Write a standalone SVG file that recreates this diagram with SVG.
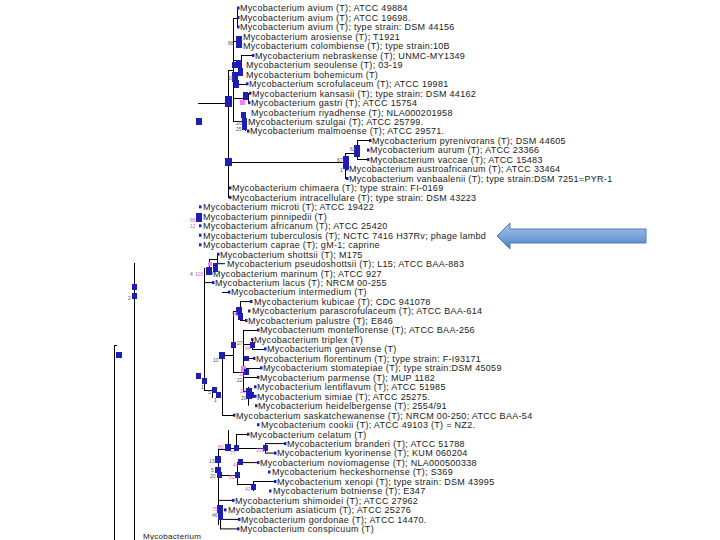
<svg xmlns="http://www.w3.org/2000/svg" width="720" height="540" viewBox="0 0 720 540">
<defs>
<style>
.t{font-family:"Liberation Sans",Arial,sans-serif;font-size:9px;letter-spacing:0.3px;fill:#1a1a1a}
.b{font-family:"Liberation Sans",Arial,sans-serif;font-size:5px;fill:#555}
.p{font-family:"Liberation Sans",Arial,sans-serif;font-size:5px;fill:#e060e0}
.n{fill:#1e1eb4}
.pk{fill:#f080f0}
.e{stroke:#000;stroke-width:1;fill:none}
</style>
<linearGradient id="ag" x1="0" y1="0" x2="0" y2="1">
<stop offset="0" stop-color="#a9c4eb"/>
<stop offset="0.5" stop-color="#7ca4dc"/>
<stop offset="1" stop-color="#4f81bd"/>
</linearGradient>
</defs>
<rect width="720" height="540" fill="#fff"/>

<g id="connectors" class="e">
<path d="M198,103.5H228 M228.5,70V198 M228,70.5H233 M233.5,18V121 M233,18.5H237 M237.5,8V27"/>
<path d="M233,41.5H240 M240.5,36V46 M233,60.5H241 M241.5,55V75 M241,55.5H253 M233,84.5H246 M233,98.5H248 M248.5,93V103 M233,121.5H245 M245.5,112V131"/>
<path d="M228,162.5H345 M345.5,153V179 M345,153.5H357 M357.5,140.6V159.5 M357,140.5H370 M357,159.5H368 M345,169H347 M345,178.5H347"/>
<path d="M217.5,254V264 M217,263.7H225 M209.5,259V274 M209,259.5H217 M204.5,268V390 M204,282.6H213 M204,390.5H212 M212.5,390V398"/>
<path d="M222,292.5H229"/>
<path d="M222.5,355V415.5 M222,415.5H234 M222,355.5H233 M233.5,311V372 M233,311.5H240 M240.5,301.6V320.5 M240,301.6H251 M240,320.5H246"/>
<path d="M233,372.5H243 M243.5,330V392 M243,330.5H258 M243,344.5H252 M252.5,339.5V349 M252,349.5H265 M243,358.5H254 M243,368.5H261 M243,377.5H258 M243,391.5H248 M248.5,386.8V405.7"/>
<path d="M228.5,430V449 M218,449.5H228 M228,448.5H236 M236.5,434V449 M236,434.5H248 M236,448.5H265 M265.5,443.6V453.1 M265,443.6H285 M265,453.1H275"/>
<path d="M218.5,449V500.4 M218,500.4H233 M219,475.5H237 M237.5,462.6V485 M237,462.6H258 M237,484.5H253 M253.5,481.5V491 M253,481.5H275 M218.5,500V525 M218,505.5H220.5 M220.5,505V529 M220,519.4H239 M220,528.9H238"/>
<path d="M134.5,263V540 M114.5,345V540 M114,345.5H117"/>
</g>

<g id="arrow">
<polygon points="497,236 510,223 510,229 646,229 646,243 510,243 510,249" fill="url(#ag)" stroke="#4a7ebb" stroke-width="1"/>
</g>

<g id="internal-nodes">
<rect class="n" x="225" y="96" width="7" height="11"/>
<rect class="n" x="196" y="118" width="6" height="7"/>
<rect class="n" x="225" y="158" width="7" height="8"/>
<rect class="n" x="236" y="36" width="6" height="12"/>
<text class="b" x="228" y="45">88</text>
<rect class="n" x="232" y="62" width="4" height="6"/>
<rect class="n" x="236" y="60" width="6" height="8"/>
<rect class="n" x="238" y="68" width="5" height="8"/>
<rect class="n" x="232" y="72" width="6" height="10"/>
<rect class="n" x="234" y="80" width="5" height="8"/>
<text class="b" x="228" y="80">93</text>
<rect class="n" x="243" y="92" width="5" height="8"/>
<rect class="pk" x="240" y="100" width="5" height="5"/>
<rect class="n" x="241" y="112" width="5" height="6"/>
<rect class="n" x="242" y="118" width="5" height="12"/>
<text class="b" x="236" y="125">20</text>
<text class="b" x="236" y="131">25</text>
<rect class="n" x="343" y="156" width="6" height="13"/>
<text class="b" x="337" y="162">67</text>
<text class="b" x="340" y="172">1</text>
<rect class="n" x="354" y="145" width="6" height="12"/>
<text class="b" x="350" y="151">63</text>
<rect class="n" x="196" y="213" width="6" height="9"/>
<text class="p" x="190" y="222">88</text>
<text class="p" x="190" y="228">12</text>
<rect class="n" x="206" y="267" width="6" height="8"/>
<rect class="pk" x="208" y="262" width="4" height="4"/>
<rect class="n" x="213" y="263" width="5" height="9"/>
<text class="b" x="190" y="276">4</text>
<text class="p" x="195" y="276">100</text>
<rect class="n" x="132" y="284" width="5" height="6"/>
<rect class="n" x="132" y="293" width="5" height="6"/>
<text class="b" x="128" y="300">2</text>
<rect class="n" x="116" y="352" width="6" height="6"/>
<rect class="n" x="236" y="307" width="6" height="8"/>
<rect class="n" x="238" y="313" width="5" height="7"/>
<text class="p" x="232" y="316">96</text>
<rect class="n" x="219" y="352" width="6" height="7"/>
<text class="b" x="213" y="362">10</text>
<rect class="n" x="231" y="342" width="5" height="6"/>
<text class="b" x="237" y="345">27</text>
<rect class="n" x="250" y="342" width="5" height="6"/>
<text class="p" x="245" y="350">94</text>
<rect class="n" x="244" y="356" width="5" height="5"/>
<rect class="pk" x="241" y="366" width="5" height="6"/>
<rect class="n" x="244" y="369" width="5" height="6"/>
<text class="p" x="239" y="376">32</text>
<text class="b" x="237" y="382">22</text>
<rect class="n" x="246" y="388" width="6" height="11"/>
<rect class="n" x="249" y="392" width="5" height="6"/>
<text class="p" x="240" y="393">20</text>
<text class="b" x="241" y="400">20</text>
<rect class="n" x="196" y="373" width="5" height="6"/>
<rect class="n" x="202" y="378" width="5" height="6"/>
<text class="b" x="201" y="389">1</text>
<rect class="n" x="212" y="387" width="5" height="6"/>
<rect class="n" x="216" y="392" width="5" height="6"/>
<text class="b" x="208" y="394">5</text>
<text class="b" x="214" y="402">1</text>
<rect class="n" x="225" y="444" width="6" height="7"/>
<text class="p" x="218" y="449">80</text>
<rect class="n" x="234" y="445" width="5" height="6"/>
<text class="p" x="230" y="455">77</text>
<rect class="n" x="263" y="445" width="5" height="6"/>
<text class="p" x="256" y="452">100</text>
<rect class="n" x="215" y="456" width="6" height="7"/>
<text class="b" x="209" y="463">13</text>
<rect class="n" x="215" y="467" width="6" height="6"/>
<rect class="n" x="217" y="472" width="5" height="6"/>
<text class="b" x="211" y="472">5</text>
<text class="b" x="210" y="478">20</text>
<rect class="n" x="235" y="472" width="5" height="6"/>
<text class="p" x="229" y="479">82</text>
<rect class="n" x="238" y="459" width="5" height="6"/>
<text class="p" x="233" y="467">44</text>
<rect class="n" x="251" y="484" width="5" height="6"/>
<text class="p" x="245" y="491">40</text>
<rect class="n" x="217" y="505" width="6" height="8"/>
<rect class="n" x="218" y="512" width="5" height="8"/>
<text class="p" x="212" y="511">75</text>
<text class="b" x="212" y="517">46</text>
</g>

<g id="leaves">
<g id="leaf-1"><rect class="n" x="237" y="6.5" width="2.5" height="3"/><text class="t" x="240" y="11.3">Mycobacterium avium (T); ATCC 49884</text></g>
<g id="leaf-2"><rect class="n" x="237" y="16" width="2.5" height="3"/><text class="t" x="240" y="20.8">Mycobacterium avium (T); ATCC 19698.</text></g>
<g id="leaf-3"><rect class="n" x="237" y="25.4" width="2.5" height="3"/><text class="t" x="240" y="30.2">Mycobacterium avium (T); type strain: DSM 44156</text></g>
<g id="leaf-4"><text class="t" x="243" y="39.7">Mycobacterium arosiense (T); T1921</text></g>
<g id="leaf-5"><text class="t" x="243" y="49.2">Mycobacterium colombiense (T); type strain:10B</text></g>
<g id="leaf-6"><rect class="n" x="252" y="53.9" width="2.5" height="3"/><text class="t" x="255" y="58.7">Mycobacterium nebraskense (T); UNMC-MY1349</text></g>
<g id="leaf-7"><text class="t" x="246" y="68.1">Mycobacterium seoulense (T); 03-19</text></g>
<g id="leaf-8"><text class="t" x="246" y="77.6">Mycobacterium bohemicum (T)</text></g>
<g id="leaf-9"><rect class="n" x="246" y="82.3" width="2.5" height="3"/><text class="t" x="249" y="87.1">Mycobacterium scrofulaceum (T); ATCC 19981</text></g>
<g id="leaf-10"><rect class="n" x="249" y="91.7" width="2.5" height="3"/><text class="t" x="252" y="96.5">Mycobacterium kansasii (T); type strain: DSM 44162</text></g>
<g id="leaf-11"><rect class="n" x="248" y="101.2" width="2.5" height="3"/><text class="t" x="251" y="106">Mycobacterium gastri (T); ATCC 15754</text></g>
<g id="leaf-12"><text class="t" x="251" y="115.5">Mycobacterium riyadhense (T); NLA000201958</text></g>
<g id="leaf-13"><text class="t" x="248" y="124.9">Mycobacterium szulgai (T); ATCC 25799.</text></g>
<g id="leaf-14"><rect class="n" x="247" y="129.6" width="2.5" height="3"/><text class="t" x="250" y="134.4">Mycobacterium malmoense (T); ATCC 29571.</text></g>
<g id="leaf-15"><rect class="n" x="369" y="139.1" width="2.5" height="3"/><text class="t" x="372" y="143.9">Mycobacterium pyrenivorans (T); DSM 44605</text></g>
<g id="leaf-16"><rect class="n" x="367" y="148.6" width="2.5" height="3"/><text class="t" x="370" y="153.4">Mycobacterium aurum (T); ATCC 23366</text></g>
<g id="leaf-17"><rect class="n" x="367" y="158" width="2.5" height="3"/><text class="t" x="370" y="162.8">Mycobacterium vaccae (T); ATCC 15483</text></g>
<g id="leaf-18"><rect class="n" x="346" y="167.5" width="2.5" height="3"/><text class="t" x="349" y="172.3">Mycobacterium austroafricanum (T); ATCC 33464</text></g>
<g id="leaf-19"><rect class="n" x="346" y="177" width="2.5" height="3"/><text class="t" x="349" y="181.8">Mycobacterium vanbaalenii (T); type strain:DSM 7251=PYR-1</text></g>
<g id="leaf-20"><rect class="n" x="229" y="186.4" width="2.5" height="3"/><text class="t" x="232" y="191.2">Mycobacterium chimaera (T); type strain: FI-0169</text></g>
<g id="leaf-21"><rect class="n" x="229" y="195.9" width="2.5" height="3"/><text class="t" x="232" y="200.7">Mycobacterium intracellulare (T); type strain: DSM 43223</text></g>
<g id="leaf-22"><rect class="n" x="199" y="205.4" width="2.5" height="3"/><text class="t" x="203" y="210.2">Mycobacterium microti (T); ATCC 19422</text></g>
<g id="leaf-23"><text class="t" x="203" y="219.6">Mycobacterium pinnipedii (T)</text></g>
<g id="leaf-24"><rect class="n" x="199" y="224.3" width="2.5" height="3"/><text class="t" x="203" y="229.1">Mycobacterium africanum (T); ATCC 25420</text></g>
<g id="leaf-25"><rect class="n" x="199" y="233.8" width="2.5" height="3"/><text class="t" x="203" y="238.6">Mycobacterium tuberculosis (T); NCTC 7416 H37Rv; phage lambd</text></g>
<g id="leaf-26"><rect class="n" x="199" y="243.3" width="2.5" height="3"/><text class="t" x="203" y="248.1">Mycobacterium caprae (T); gM-1; caprine</text></g>
<g id="leaf-27"><rect class="n" x="217" y="252.7" width="2.5" height="3"/><text class="t" x="220" y="257.5">Mycobacterium shottsii (T); M175</text></g>
<g id="leaf-28"><text class="t" x="227" y="267">Mycobacterium pseudoshottsii (T); L15; ATCC BAA-883</text></g>
<g id="leaf-29"><rect class="n" x="210" y="271.7" width="2.5" height="3"/><text class="t" x="213" y="276.5">Mycobacterium marinum (T); ATCC 927</text></g>
<g id="leaf-30"><rect class="n" x="212" y="281.1" width="2.5" height="3"/><text class="t" x="215" y="285.9">Mycobacterium lacus (T); NRCM 00-255</text></g>
<g id="leaf-31"><rect class="n" x="228" y="290.6" width="2.5" height="3"/><text class="t" x="231" y="295.4">Mycobacterium intermedium (T)</text></g>
<g id="leaf-32"><rect class="n" x="250" y="300.1" width="2.5" height="3"/><text class="t" x="254" y="304.9">Mycobacterium kubicae (T); CDC 941078</text></g>
<g id="leaf-33"><rect class="n" x="248" y="309.5" width="2.5" height="3"/><text class="t" x="252" y="314.3">Mycobacterium parascrofulaceum (T); ATCC BAA-614</text></g>
<g id="leaf-34"><rect class="n" x="245" y="319" width="2.5" height="3"/><text class="t" x="248" y="323.8">Mycobacterium palustre (T); E846</text></g>
<g id="leaf-35"><rect class="n" x="257" y="328.5" width="2.5" height="3"/><text class="t" x="260" y="333.3">Mycobacterium monteflorense (T); ATCC BAA-256</text></g>
<g id="leaf-36"><rect class="n" x="251" y="338" width="2.5" height="3"/><text class="t" x="254" y="342.8">Mycobacterium triplex (T)</text></g>
<g id="leaf-37"><rect class="n" x="264" y="347.4" width="2.5" height="3"/><text class="t" x="267" y="352.2">Mycobacterium genavense (T)</text></g>
<g id="leaf-38"><rect class="n" x="253" y="356.9" width="2.5" height="3"/><text class="t" x="256" y="361.7">Mycobacterium florentinum (T); type strain: F-I93171</text></g>
<g id="leaf-39"><rect class="n" x="260" y="366.4" width="2.5" height="3"/><text class="t" x="263" y="371.2">Mycobacterium stomatepiae (T); type strain:DSM 45059</text></g>
<g id="leaf-40"><rect class="n" x="257" y="375.8" width="2.5" height="3"/><text class="t" x="260" y="380.6">Mycobacterium parmense (T); MUP 1182</text></g>
<g id="leaf-41"><rect class="n" x="254" y="385.3" width="2.5" height="3"/><text class="t" x="257" y="390.1">Mycobacterium lentiflavum (T); ATCC 51985</text></g>
<g id="leaf-42"><rect class="n" x="254" y="394.8" width="2.5" height="3"/><text class="t" x="257" y="399.6">Mycobacterium simiae (T); ATCC 25275.</text></g>
<g id="leaf-43"><rect class="n" x="255" y="404.2" width="2.5" height="3"/><text class="t" x="258" y="409">Mycobacterium heidelbergense (T); 2554/91</text></g>
<g id="leaf-44"><rect class="n" x="233" y="413.7" width="2.5" height="3"/><text class="t" x="236" y="418.5">Mycobacterium saskatchewanense (T); NRCM 00-250; ATCC BAA-54</text></g>
<g id="leaf-45"><rect class="n" x="257" y="423.2" width="2.5" height="3"/><text class="t" x="261" y="428">Mycobacterium cookii (T); ATCC 49103 (T) = NZ2.</text></g>
<g id="leaf-46"><rect class="n" x="247" y="432.7" width="2.5" height="3"/><text class="t" x="250" y="437.5">Mycobacterium celatum (T)</text></g>
<g id="leaf-47"><rect class="n" x="284" y="442.1" width="2.5" height="3"/><text class="t" x="287" y="446.9">Mycobacterium branderi (T); ATCC 51788</text></g>
<g id="leaf-48"><rect class="n" x="274" y="451.6" width="2.5" height="3"/><text class="t" x="277" y="456.4">Mycobacterium kyorinense (T); KUM 060204</text></g>
<g id="leaf-49"><rect class="n" x="257" y="461.1" width="2.5" height="3"/><text class="t" x="260" y="465.9">Mycobacterium noviomagense (T); NLA000500338</text></g>
<g id="leaf-50"><rect class="n" x="268" y="470.5" width="2.5" height="3"/><text class="t" x="272" y="475.3">Mycobacterium heckeshornense (T); S369</text></g>
<g id="leaf-51"><rect class="n" x="274" y="480" width="2.5" height="3"/><text class="t" x="277" y="484.8">Mycobacterium xenopi (T); type strain: DSM 43995</text></g>
<g id="leaf-52"><rect class="n" x="269" y="489.5" width="2.5" height="3"/><text class="t" x="273" y="494.3">Mycobacterium botniense (T); E347</text></g>
<g id="leaf-53"><rect class="n" x="232" y="498.9" width="2.5" height="3"/><text class="t" x="235" y="503.7">Mycobacterium shimoidei (T); ATCC 27962</text></g>
<g id="leaf-54"><rect class="n" x="224" y="508.4" width="2.5" height="3"/><text class="t" x="228" y="513.2">Mycobacterium asiaticum (T); ATCC 25276</text></g>
<g id="leaf-55"><rect class="n" x="238" y="517.9" width="2.5" height="3"/><text class="t" x="241" y="522.7">Mycobacterium gordonae (T); ATCC 14470.</text></g>
<g id="leaf-56"><rect class="n" x="237" y="527.4" width="2.5" height="3"/><text class="t" x="240" y="532.2">Mycobacterium conspicuum (T)</text></g>
<g id="leaf-57"><text class="t" x="143" y="539" style="font-size:8px">Mycobacterium</text></g>
</g>
</svg>
